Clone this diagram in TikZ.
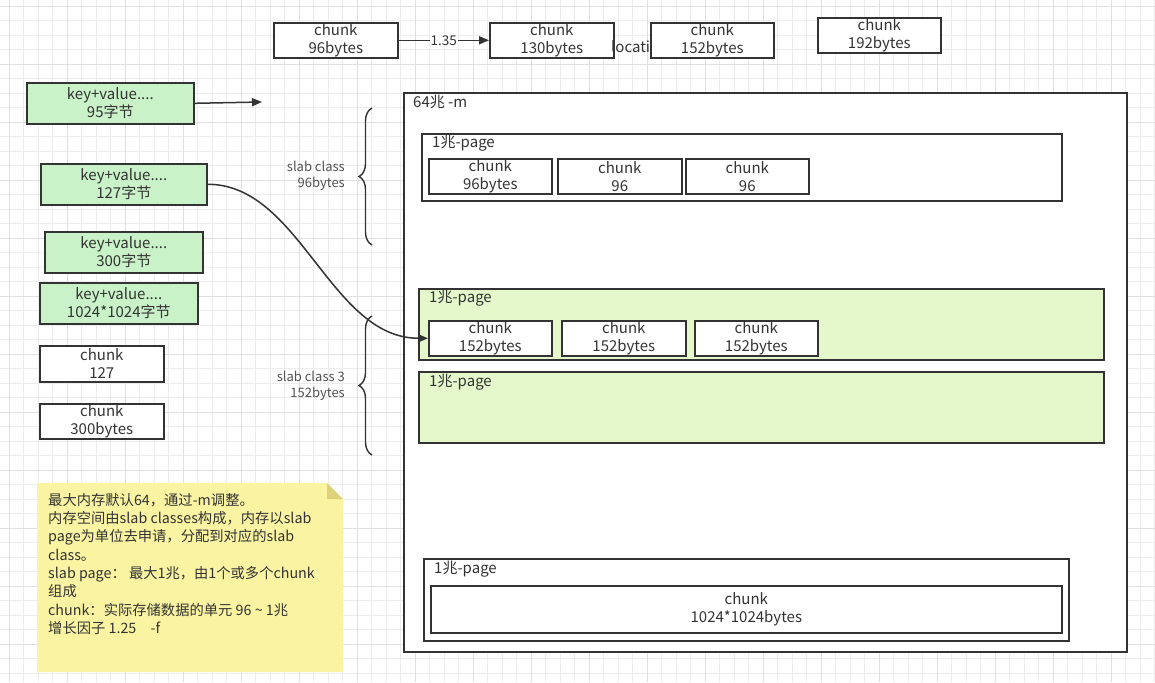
\documentclass[tikz,border=0pt]{standalone}
\usepackage{fontspec}
\setmainfont{Noto Sans CJK SC}
\usetikzlibrary{decorations.pathreplacing,arrows.meta}
\definecolor{ink}{HTML}{333333}
\definecolor{gridc}{HTML}{ECECEC}
\definecolor{gridm}{HTML}{E0E0E0}
\definecolor{kvgreen}{HTML}{C9F2C9}
\definecolor{pagegreen}{HTML}{E4F8CB}
\definecolor{notey}{HTML}{FAF4A2}
\definecolor{notefold}{HTML}{DDD27A}
\tikzset{
  box/.style={draw=ink, line width=1.6pt, fill=white, text=ink, align=center,
    inner sep=0pt, anchor=north west, font=\fontsize{15}{18}\selectfont},
  kv/.style={box, fill=kvgreen},
  page/.style={draw=ink, line width=1.6pt, fill=white, anchor=north west, inner sep=0pt},
  gpage/.style={page, fill=pagegreen},
  lbl/.style={text=ink, anchor=west, inner sep=0pt, font=\fontsize{15}{18}\selectfont},
  slbl/.style={text=ink!85, align=right, anchor=east, inner sep=0pt, font=\fontsize{13}{16}\selectfont},
  conn/.style={draw=ink, line width=1.5pt, -{Triangle[length=10pt,width=8pt]}},
  brc/.style={draw=ink, line width=1.4pt, decorate, decoration={brace, amplitude=13pt}},
}
\begin{document}
\begin{tikzpicture}[x=1pt,y=-1pt]
\useasboundingbox (0,0) rectangle (1155,682);
\fill[white] (0,0) rectangle (1155,682);
% grid
\foreach \i in {0,...,79} {
  \pgfmathsetmacro\gx{9+14.5*\i}
  \draw[gridc, line width=0.6pt] (\gx,0) -- (\gx,682);
}
\foreach \i in {0,...,47} {
  \pgfmathsetmacro\gy{6+14.5*\i}
  \draw[gridc, line width=0.6pt] (0,\gy) -- (1155,\gy);
}
\foreach \i in {0,...,20} {
  \pgfmathsetmacro\gx{9+58*\i}
  \draw[gridm, line width=0.7pt] (\gx,0) -- (\gx,682);
}
\foreach \i in {0,...,12} {
  \pgfmathsetmacro\gy{6+58*\i}
  \draw[gridm, line width=0.7pt] (0,\gy) -- (1155,\gy);
}

% top chunks
\node[box, minimum width=124pt, minimum height=35pt] (t96) at (273,22) {chunk\\96bytes};
\node[box, minimum width=124pt, minimum height=35pt] (t130) at (489,22) {chunk\\130bytes};
\node[lbl] (loc) at (611,47) {locati};
\node[box, minimum width=123pt, minimum height=35pt] (t152) at (650,22) {chunk\\152bytes};
\node[box, minimum width=123pt, minimum height=35pt] (t192) at (817,17) {chunk\\192bytes};
\draw[conn] (t96.east) -- node[fill=white, inner sep=1pt, text=ink, font=\fontsize{13.5}{15}\selectfont] {1.35} (t130.west);

% left key/value boxes
\node[kv, minimum width=167pt, minimum height=41pt] (kv95) at (26,82) {key+value....\\95字节};
\coordinate (free) at (262,102);
\draw[conn] (kv95.east) -- (free);
\node[kv, minimum width=166pt, minimum height=41pt] (kv127) at (40,163) {key+value....\\127字节};
\node[kv, minimum width=158pt, minimum height=41pt] (kv300) at (44,231) {key+value....\\300字节};
\node[kv, minimum width=158pt, minimum height=41pt] (kv1m) at (39,282) {key+value....\\1024*1024字节};
\node[box, minimum width=124pt, minimum height=36pt] (c127) at (39,345) {chunk\\127};
\node[box, minimum width=124pt, minimum height=35pt] (c300) at (39,403) {chunk\\300bytes};

% note
\fill[notey] (37,483) -- (327,483) -- (343,499) -- (343,672) -- (37,672) -- cycle;
\fill[notefold] (327,483) -- (343,499) -- (327,499) -- cycle;
\node[text=ink, anchor=north west, inner sep=0pt, align=left,
  font=\fontsize{14.3}{18.3}\selectfont] (note) at (48,493) {最大内存默认64，通过-m调整。\\
内存空间由slab classes构成，内存以slab\\
page为单位去申请，分配到对应的slab\\
class。\\
slab page： 最大1兆，由1个或多个chunk\\
组成\\
chunk：实际存储数据的单元 96 \textasciitilde{} 1兆\\
增长因子 1.25\quad -f};

% braces
\draw[brc] (372,245) -- (372,108);
\node[slbl] (sc1) at (345,176) {slab class\\96bytes};
\draw[brc] (372,455) -- (372,316);
\node[slbl] (sc3) at (345,386) {slab class 3\\152bytes};

% main container
\node[page, minimum width=723pt, minimum height=559pt] (mem) at (403,92) {};
\node[lbl] at (413,102) {64兆 -m};

% page 1
\node[page, minimum width=640pt, minimum height=67pt] (p1) at (421,133) {};
\node[lbl] at (432,143) {1兆-page};
\node[box, minimum width=123pt, minimum height=35pt] (p1a) at (428,158) {chunk\\96bytes};
\node[box, minimum width=124pt, minimum height=35pt] (p1b) at (557,158) {chunk\\96};
\node[box, minimum width=123pt, minimum height=35pt] (p1c) at (685,158) {chunk\\96};

% page 2
\node[gpage, minimum width=685pt, minimum height=71pt] (p2) at (418,288) {};
\node[lbl] at (429,298) {1兆-page};
\node[box, minimum width=123pt, minimum height=35pt] (p2a) at (428,320) {chunk\\152bytes};
\node[box, minimum width=124pt, minimum height=35pt] (p2b) at (561,320) {chunk\\152bytes};
\node[box, minimum width=123pt, minimum height=35pt] (p2c) at (694,320) {chunk\\152bytes};

% page 3
\node[gpage, minimum width=685pt, minimum height=71pt] (p3) at (418,371) {};
\node[lbl] at (429,382) {1兆-page};

% page 4
\node[page, minimum width=645pt, minimum height=82pt] (p4) at (423,558) {};
\node[lbl] at (434,569) {1兆-page};
\node[box, minimum width=631pt, minimum height=47pt] (p4a) at (430,585) {chunk\\1024*1024bytes};

% curved connector
\draw[conn] (kv127.east) .. controls (300,184) and (330,338) .. (p2a.west);
\end{tikzpicture}
\end{document}
